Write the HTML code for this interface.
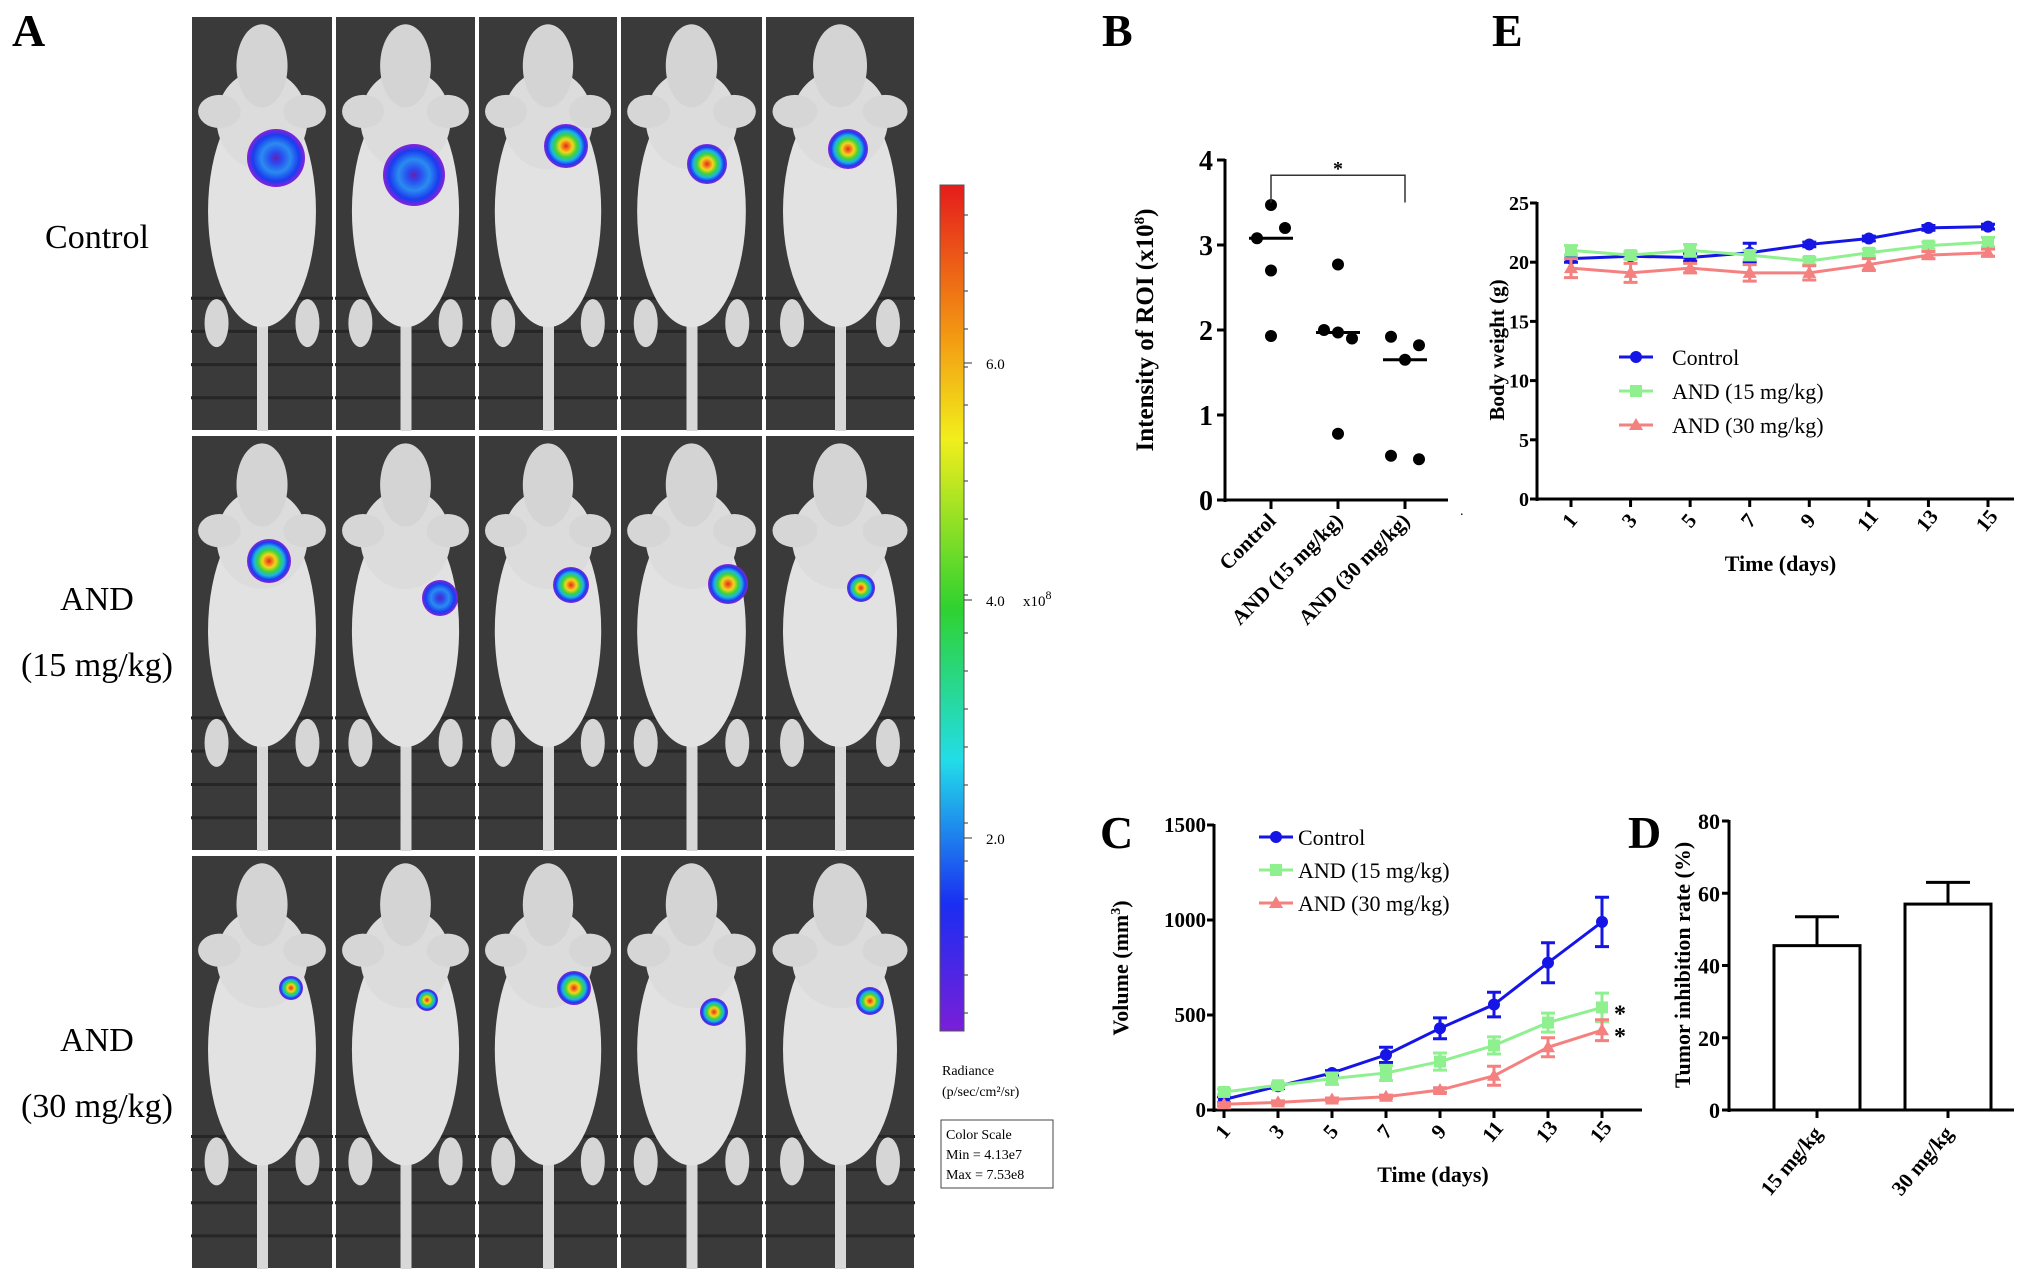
<!DOCTYPE html>
<html><head><meta charset="utf-8">
<style>
html,body{margin:0;padding:0;background:#fff;}
svg{display:block;}
text{font-family:"Liberation Serif",serif;}
</style></head>
<body>
<svg id="fig" width="2031" height="1283" viewBox="0 0 2031 1283" xmlns="http://www.w3.org/2000/svg">
<defs>
<radialGradient id="blob" cx="50%" cy="50%" r="50%">
<stop offset="0" stop-color="#e8261c"/><stop offset="0.3" stop-color="#f5d51a"/><stop offset="0.5" stop-color="#3cd43a"/><stop offset="0.68" stop-color="#1fb3e6"/><stop offset="0.85" stop-color="#1a3cf0"/><stop offset="1" stop-color="#8a22d8"/>
</radialGradient>
<radialGradient id="blobBlue" cx="50%" cy="50%" r="50%">
<stop offset="0" stop-color="#6a1fb0"/><stop offset="0.2" stop-color="#2a4af0"/><stop offset="0.5" stop-color="#2a8cf0"/><stop offset="0.8" stop-color="#1a3cf0"/><stop offset="1" stop-color="#8a22d8"/>
</radialGradient>
<linearGradient id="cbar" x1="0" y1="0" x2="0" y2="1">
<stop offset="0" stop-color="#e51c1c"/><stop offset="0.18" stop-color="#f39a12"/><stop offset="0.3" stop-color="#f2ee1c"/><stop offset="0.5" stop-color="#2fd22f"/><stop offset="0.68" stop-color="#22dde8"/><stop offset="0.85" stop-color="#1a2ef2"/><stop offset="1" stop-color="#7a1fd8"/>
</linearGradient>
</defs>
<g id="panelA"></g>
<g id="panelB"></g>
<g id="panelE"></g>
<g id="panelC"></g>
<g id="panelD"></g>
</svg>
<script>
const NS="http://www.w3.org/2000/svg";
function mk(parent,tag,attrs,txt){const e=document.createElementNS(NS,tag);for(const k in attrs)e.setAttribute(k,attrs[k]);if(txt!==undefined)e.textContent=txt;parent.appendChild(e);return e;}

// ---------- Panel A ----------
const colEdges=[190,334,477,619,764,916];
const rowEdges=[[16,431],[435,851],[855,1269]];
const blobs=[[[276,158,29,1],[414,175,31,1],[566,146,22,0],[707,164,20,0],[848,149,20,0]],
[[269,561,22,0],[440,598,18,1],[571,585,18,0],[728,584,20,0],[861,588,14,0]],
[[291,988,12,0],[427,1000,11,0],[574,988,17,0],[714,1012,14,0],[870,1001,14,0]]];
const A=document.getElementById('panelA');
let t=mk(A,'text',{x:12,y:46,'font-size':46,'font-weight':'bold'},'A');


const rowLabels=[[["Control",236]],[["AND",598],["(15 mg/kg)",664]],[["AND",1039],["(30 mg/kg)",1105]]];
rowLabels.forEach((rl,i)=>rl.forEach(l=>{const e=mk(A,'text',{x:97,y:l[1]+12,'font-size':34,'text-anchor':'middle'},l[0]);

}));
rowEdges.forEach((r,ri)=>{
  for(let c=0;c<5;c++){
    const x0=colEdges[c]+1,x1=colEdges[c+1]-1,y0=r[0],y1=r[1],w=x1-x0,h=y1-y0,cx=(x0+x1)/2;
    const g=mk(A,'g',{});
    
    
    mk(g,'rect',{x:x0,y:y0,width:w,height:h,fill:'#3a3a3a',stroke:'#fff','stroke-width':2});
    for(let k=1;k<5;k++)mk(g,'line',{x1:x0,x2:x1,y1:y0+h*0.6+k*h*0.08,y2:y0+h*0.6+k*h*0.08,stroke:'#262626','stroke-width':3});
    const f='#e2e2e2';
    mk(g,'rect',{x:cx-5,y:y0+h*0.6,width:11,height:h*0.4,fill:'#d8d8d8'});
    mk(g,'ellipse',{cx:cx-w*0.32,cy:y0+h*0.74,rx:12,ry:24,fill:'#d6d6d6'});
    mk(g,'ellipse',{cx:cx+w*0.32,cy:y0+h*0.74,rx:12,ry:24,fill:'#d6d6d6'});
    mk(g,'ellipse',{cx:cx,cy:y0+h*0.47,rx:w*0.38,ry:h*0.28,fill:f});
    mk(g,'ellipse',{cx:cx,cy:y0+h*0.25,rx:w*0.32,ry:h*0.12,fill:'#dcdcdc'});
    mk(g,'ellipse',{cx:cx-w*0.3,cy:y0+h*0.23,rx:w*0.15,ry:h*0.04,fill:'#d6d6d6'});
    mk(g,'ellipse',{cx:cx+w*0.3,cy:y0+h*0.23,rx:w*0.15,ry:h*0.04,fill:'#d6d6d6'});
    mk(g,'ellipse',{cx:cx,cy:y0+h*0.12,rx:w*0.18,ry:h*0.1,fill:'#d4d4d4'});
    const b=blobs[ri][c];
    mk(g,'circle',{cx:b[0],cy:b[1],r:b[2],fill:b[3]?'url(#blobBlue)':'url(#blob)'});
  }
});
const cb=mk(A,'rect',{x:940,y:185,width:24,height:846,fill:'url(#cbar)',stroke:'#555','stroke-width':1});


[["6.0",363],["4.0",600],["2.0",838]].forEach(l=>{mk(A,'line',{x1:964,x2:972,y1:l[1],y2:l[1],stroke:'#333'});
const e=mk(A,'text',{x:986,y:l[1]+6,'font-size':15,'font-family':'Liberation Sans'},l[0]);

});
for(let y=215;y<1031;y+=38)mk(A,'line',{x1:964,x2:968,y1:y,y2:y,stroke:'#333'});
t=mk(A,'text',{x:1023,y:606,'font-size':15,'font-family':'Liberation Sans'},'x10');
mk(t,'tspan',{dy:-7,'font-size':12},'8');


t=mk(A,'text',{x:942,y:1075,'font-size':14,'font-family':'Liberation Sans'},'Radiance');


t=mk(A,'text',{x:942,y:1096,'font-size':14,'font-family':'Liberation Sans'},'(p/sec/cm²/sr)');


t=mk(A,'rect',{x:941,y:1120,width:112,height:68,fill:'none',stroke:'#444'});


["Color Scale","Min = 4.13e7","Max = 7.53e8"].forEach((s,i)=>{const e=mk(A,'text',{x:946,y:1139+i*20,'font-size':14,'font-family':'Liberation Sans'},s);

});

// ---------- Panel B ----------
const bCategories=["Control","AND (15 mg/kg)","AND (30 mg/kg)"];
const bPoints=[[3.47,3.2,3.08,2.7,1.93],[2.77,2.0,1.97,1.9,0.78],[1.92,1.82,1.65,0.52,0.48]];
const bOffsets=[[0,1,-1,0,0],[0,-1,0,1,0],[-1,1,0,-1,1]];
const bMedians=[3.08,1.97,1.65];
const bTicks=[0,1,2,3,4];
const B=document.getElementById('panelB');
const bx0=1225,bx1=1448,by0=500,by1=160;
const bY=v=>by0-(v/4)*(by0-by1);
const bX=i=>1271+i*67;
t=mk(B,'text',{x:1102,y:46,'font-size':46,'font-weight':'bold'},'B');


mk(B,'line',{x1:bx0,x2:bx0,y1:bY(4)-1,y2:by0+2,stroke:'#000','stroke-width':3});
mk(B,'line',{x1:bx0-2,x2:bx1,y1:by0,y2:by0,stroke:'#000','stroke-width':3});
bTicks.forEach(v=>{mk(B,'line',{x1:bx0-8,x2:bx0,y1:bY(v),y2:bY(v),stroke:'#000','stroke-width':3});
const e=mk(B,'text',{x:bx0-12,y:bY(v)+10,'font-size':28,'font-weight':'bold','text-anchor':'end'},v);

});
bCategories.forEach((c,i)=>{mk(B,'line',{x1:bX(i),x2:bX(i),y1:by0,y2:by0+9,stroke:'#000','stroke-width':3});
const e=mk(B,'text',{x:bX(i)+6,y:by0+22,'font-size':21,'font-weight':'bold','text-anchor':'end',transform:`rotate(-45 ${bX(i)+6} ${by0+22})`},c);


bPoints[i].forEach((v,j)=>{const p=mk(B,'circle',{cx:bX(i)+bOffsets[i][j]*14,cy:bY(v),r:6,fill:'#000'});

});
const m=mk(B,'line',{x1:bX(i)-22,x2:bX(i)+22,y1:bY(bMedians[i]),y2:bY(bMedians[i]),stroke:'#000','stroke-width':3});

});
t=mk(B,'path',{d:`M${bX(0)},${bY(3.5)} V${bY(3.82)} H${bX(2)} V${bY(3.5)}`,fill:'none',stroke:'#333','stroke-width':1.5});


t=mk(B,'text',{x:(bX(0)+bX(2))/2,y:bY(3.87)+4,'font-size':20,'font-weight':'bold','text-anchor':'middle'},'*');


t=mk(B,'text',{x:0,y:0,'font-size':25,'font-weight':'bold','text-anchor':'middle',transform:'translate(1153 330) rotate(-90)'},'Intensity of ROI (x10');
mk(t,'tspan',{dy:-9,'font-size':15},'8');mk(t,'tspan',{dy:9},')');


mk(B,'text',{x:1460,y:515,'font-size':14},'.');

// ---------- line-chart helper ----------
function lineChart(G,cfg){
  const X=d=>cfg.x1+(d-1)/14*(cfg.x15-cfg.x1);
  const Y=v=>cfg.y0-(v/cfg.max)*(cfg.y0-cfg.yTop);
  mk(G,'line',{x1:cfg.left,x2:cfg.left,y1:cfg.yTop-1,y2:cfg.y0+2,stroke:'#000','stroke-width':3});
  mk(G,'line',{x1:cfg.left-2,x2:cfg.right,y1:cfg.y0,y2:cfg.y0,stroke:'#000','stroke-width':3});
  cfg.yTicks.forEach(v=>{mk(G,'line',{x1:cfg.left-7,x2:cfg.left,y1:Y(v),y2:Y(v),stroke:'#000','stroke-width':3});
  const e=mk(G,'text',{x:cfg.left-8,y:Y(v)+7,'font-size':cfg.tickFs||22,'font-weight':'bold','text-anchor':'end'},v);
  
  });
  cfg.days.forEach(d=>{mk(G,'line',{x1:X(d),x2:X(d),y1:cfg.y0,y2:cfg.y0+8,stroke:'#000','stroke-width':3});
  const e=mk(G,'text',{x:X(d)+4,y:cfg.y0+26,'font-size':21,'font-weight':'bold','text-anchor':'middle',transform:`rotate(-50 ${X(d)+4} ${cfg.y0+26})`},d);
  
  });
  cfg.series.forEach((s,si)=>{
    const pts=cfg.days.map((d,i)=>X(d)+','+Y(s.vals[i])).join(' ');
    const pl=mk(G,'polyline',{points:pts,fill:'none',stroke:s.color,'stroke-width':3});
    
    
    cfg.days.forEach((d,i)=>{
      const x=X(d),y=Y(s.vals[i]),e=s.errs[i];
      const eb=mk(G,'path',{d:`M${x-7},${Y(s.vals[i]+e)} H${x+7} M${x},${Y(s.vals[i]+e)} V${Y(s.vals[i]-e)} M${x-7},${Y(s.vals[i]-e)} H${x+7}`,stroke:s.color,'stroke-width':3,fill:'none'});
      
      
      let m;
      if(s.shape==='circle')m=mk(G,'circle',{cx:x,cy:y,r:6,fill:s.color});
      else if(s.shape==='square')m=mk(G,'rect',{x:x-6,y:y-6,width:12,height:12,fill:s.color});
      else m=mk(G,'path',{d:`M${x},${y-7} L${x+7},${y+5} L${x-7},${y+5}Z`,fill:s.color});
      
      
    });
  });
  cfg.series.forEach((s,si)=>{
    const ly=cfg.legY+si*cfg.legDy,lx=cfg.legX;
    const lg=mk(G,'g',{});
    
    
    mk(lg,'line',{x1:lx-17,x2:lx+17,y1:ly,y2:ly,stroke:s.color,'stroke-width':3});
    if(s.shape==='circle')mk(lg,'circle',{cx:lx,cy:ly,r:6,fill:s.color});
    else if(s.shape==='square')mk(lg,'rect',{x:lx-6,y:ly-6,width:12,height:12,fill:s.color});
    else mk(lg,'path',{d:`M${lx},${ly-7} L${lx+7},${ly+5} L${lx-7},${ly+5}Z`,fill:s.color});
    mk(lg,'text',{x:lx+cfg.legTx,y:ly+8,'font-size':22},s.label);
  });
  let e=mk(G,'text',{x:(cfg.left+cfg.right)/2+5,y:cfg.y0+72,'font-size':22,'font-weight':'bold','text-anchor':'middle'},'Time (days)');
  
  
  return {X,Y};
}

// ---------- Panel E ----------
const eDays=[1,3,5,7,9,11,13,15];
const eControl=[20.3,20.5,20.4,20.8,21.5,22.0,22.9,23.0];
const eControlErr=[0.3,0.2,0.3,0.8,0.2,0.2,0.2,0.2];
const e15=[21.0,20.6,21.0,20.6,20.1,20.8,21.4,21.7];
const e15Err=[0.4,0.3,0.5,0.4,0.3,0.3,0.3,0.4];
const e30=[19.5,19.1,19.5,19.1,19.1,19.8,20.6,20.8];
const e30Err=[0.8,0.8,0.4,0.7,0.6,0.5,0.3,0.3];
const eYTicks=[0,5,10,15,20,25];
const E=document.getElementById('panelE');
t=mk(E,'text',{x:1492,y:46,'font-size':46,'font-weight':'bold'},'E');


lineChart(E,{left:1537,right:2014,y0:499,yTop:203,max:25,x1:1571,x15:1988,days:eDays,yTicks:eYTicks,tickFs:20,legX:1636,legY:357,legDy:34,legTx:36,
series:[{key:'control',label:'Control',vals:eControl,errs:eControlErr,color:'#1515e6',shape:'circle'},
{key:'and15',label:'AND (15 mg/kg)',vals:e15,errs:e15Err,color:'#8ef08e',shape:'square'},
{key:'and30',label:'AND (30 mg/kg)',vals:e30,errs:e30Err,color:'#f58080',shape:'triangle'}]});
t=mk(E,'text',{x:0,y:0,'font-size':21,'font-weight':'bold','text-anchor':'middle',transform:'translate(1504 350) rotate(-90)'},'Body weight (g)');



// ---------- Panel C ----------
const cDays=[1,3,5,7,9,11,13,15];
const cControl=[55,125,195,290,430,555,775,990];
const cControlErr=[15,12,12,40,55,65,105,130];
const c15=[95,130,165,195,255,340,460,540];
const c15Err=[15,12,30,40,45,45,50,75];
const c30=[30,40,55,70,105,180,330,420];
const c30Err=[8,8,8,8,12,50,50,55];
const cYTicks=[0,500,1000,1500];
const C=document.getElementById('panelC');
t=mk(C,'text',{x:1100,y:848,'font-size':46,'font-weight':'bold'},'C');


const cc=lineChart(C,{left:1214,right:1642,y0:1110,yTop:825,max:1500,x1:1224,x15:1602,days:cDays,yTicks:cYTicks,tickFs:21,legX:1276,legY:837,legDy:33,legTx:22,
series:[{key:'control',label:'Control',vals:cControl,errs:cControlErr,color:'#1515e6',shape:'circle'},
{key:'and15',label:'AND (15 mg/kg)',vals:c15,errs:c15Err,color:'#8ef08e',shape:'square'},
{key:'and30',label:'AND (30 mg/kg)',vals:c30,errs:c30Err,color:'#f58080',shape:'triangle'}]});
t=mk(C,'text',{x:1614,y:cc.Y(c15[7])+14,'font-size':24,'font-weight':'bold'},'*');


t=mk(C,'text',{x:1614,y:cc.Y(c30[7])+14,'font-size':24,'font-weight':'bold'},'*');


t=mk(C,'text',{x:0,y:0,'font-size':22,'font-weight':'bold','text-anchor':'middle',transform:'translate(1128 968) rotate(-90)'},'Volume (mm');
mk(t,'tspan',{dy:-8,'font-size':14},'3');mk(t,'tspan',{dy:8},')');



// ---------- Panel D ----------
const dCategories=["15 mg/kg","30 mg/kg"];
const dValues=[45.5,57];
const dErrors=[8,6];
const dYTicks=[0,20,40,60,80];
const D=document.getElementById('panelD');
const dl=1729,dr=2014,d0=1110,dTop=821;
const dY=v=>d0-(v/80)*(d0-dTop);
const dX=i=>1817+i*131;
t=mk(D,'text',{x:1628,y:848,'font-size':46,'font-weight':'bold'},'D');


mk(D,'line',{x1:dl,x2:dl,y1:dTop-1,y2:d0+2,stroke:'#000','stroke-width':3});
mk(D,'line',{x1:dl-2,x2:dr,y1:d0,y2:d0,stroke:'#000','stroke-width':3});
dYTicks.forEach(v=>{mk(D,'line',{x1:dl-7,x2:dl,y1:dY(v),y2:dY(v),stroke:'#000','stroke-width':3});
const e=mk(D,'text',{x:dl-9,y:dY(v)+8,'font-size':22,'font-weight':'bold','text-anchor':'end'},v);

});
dCategories.forEach((c,i)=>{
  const x=dX(i);
  const eb=mk(D,'path',{d:`M${x},${dY(dValues[i])} V${dY(dValues[i]+dErrors[i])} M${x-22},${dY(dValues[i]+dErrors[i])} H${x+22}`,stroke:'#000','stroke-width':3,fill:'none'});
  
  
  const b=mk(D,'rect',{x:x-43,y:dY(dValues[i]),width:86,height:d0-dY(dValues[i]),fill:'#fff',stroke:'#000','stroke-width':3});
  
  
  mk(D,'line',{x1:x,x2:x,y1:d0,y2:d0+8,stroke:'#000','stroke-width':3});
  const e=mk(D,'text',{x:x+6,y:d0+24,'font-size':21,'font-weight':'bold','text-anchor':'end',transform:`rotate(-50 ${x+6} ${d0+24})`},c);
  
  
});
t=mk(D,'text',{x:0,y:0,'font-size':22,'font-weight':'bold','text-anchor':'middle',transform:'translate(1690 965) rotate(-90)'},'Tumor inhibition rate (%)');


</script>
</body></html>
